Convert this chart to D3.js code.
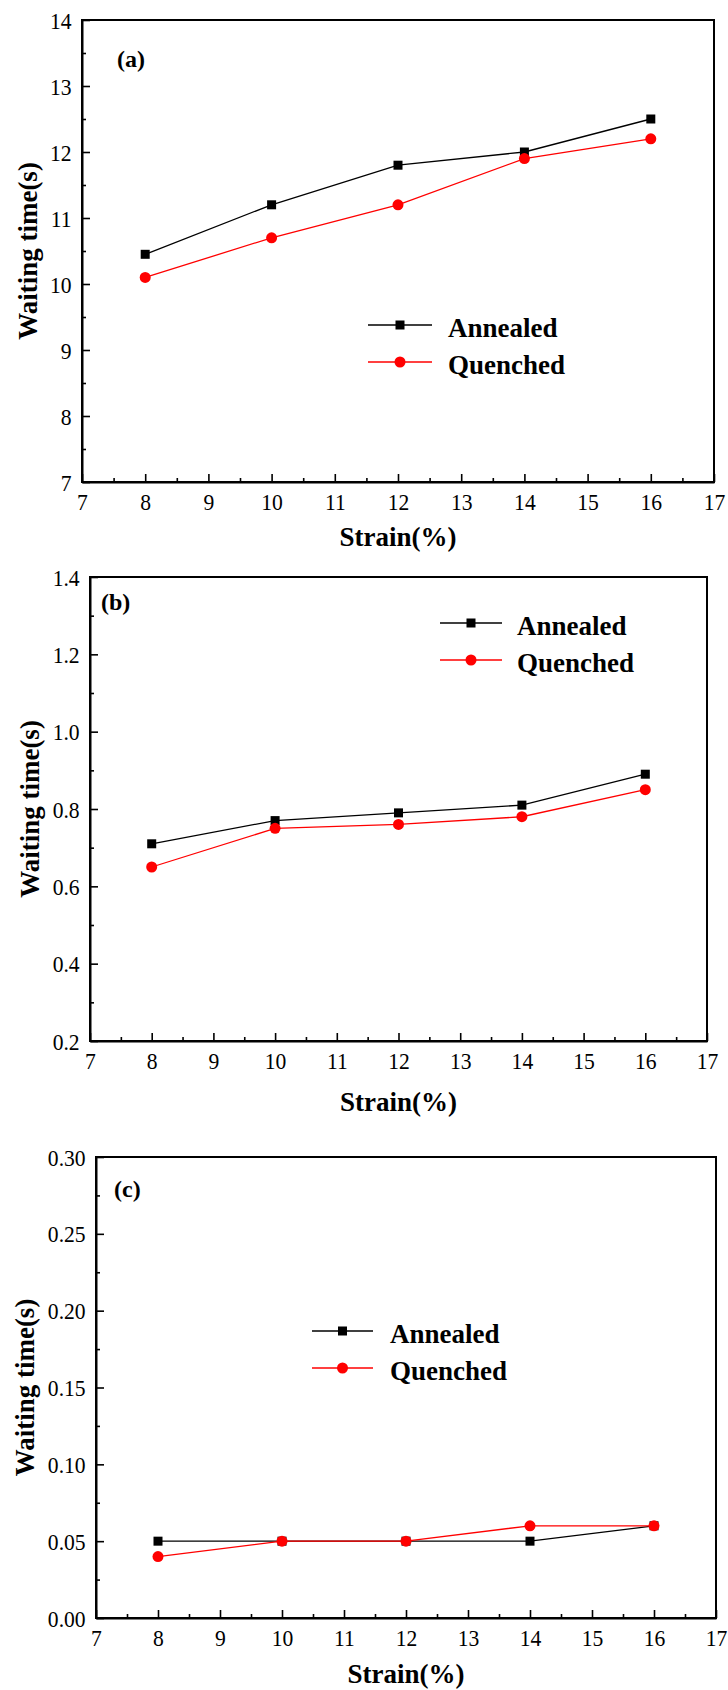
<!DOCTYPE html>
<html>
<head>
<meta charset="utf-8">
<script src="https://cdn.jsdelivr.net/npm/d3@7"></script>
<style>
  body { margin: 0; background: #fff; }
</style>
</head>
<body>
<div id="chart"></div>
<script>
// data
var strain = [8, 10, 12, 14, 16];
var seriesNames = ["Annealed", "Quenched"];

var annealedA = [10.45, 11.2, 11.8, 12.0, 12.5];
var quenchedA = [10.1, 10.7, 11.2, 11.9, 12.2];
var annealedB = [0.71, 0.77, 0.79, 0.81, 0.89];
var quenchedB = [0.65, 0.75, 0.76, 0.78, 0.85];
var annealedC = [0.05, 0.05, 0.05, 0.05, 0.06];
var quenchedC = [0.04, 0.05, 0.05, 0.06, 0.06];

var xTicks = [7, 8, 9, 10, 11, 12, 13, 14, 15, 16, 17];
var yTicksA = [7, 8, 9, 10, 11, 12, 13, 14];
var yTicksB = [0.2, 0.4, 0.6, 0.8, 1.0, 1.2, 1.4];
var yTicksC = [0.00, 0.05, 0.10, 0.15, 0.20, 0.25, 0.30];

var panelLabels = ["(a)", "(b)", "(c)"];

var colors = {Annealed: "#000000", Quenched: "#ff0000"};
var FONT = "'Liberation Serif', 'Times New Roman', Times, serif";

// layout of each panel (pixel boxes)
var panels = [
  {label: panelLabels[0], a: annealedA, q: quenchedA, yt: yTicksA, fmt: d3.format("d"),
   left: 82, right: 714, top: 20, bottom: 482,
   ylabX: 28, xlabY: 546, tagX: 117, tagY: 67,
   leg: {x0: 368, x1: 432, tx: 448, y: 325}},
  {label: panelLabels[1], a: annealedB, q: quenchedB, yt: yTicksB, fmt: d3.format(".1f"),
   left: 90, right: 707, top: 577, bottom: 1041,
   ylabX: 30, xlabY: 1111, tagX: 101, tagY: 610,
   leg: {x0: 440, x1: 502, tx: 517, y: 623}},
  {label: panelLabels[2], a: annealedC, q: quenchedC, yt: yTicksC, fmt: d3.format(".2f"),
   left: 96, right: 716, top: 1157, bottom: 1618,
   ylabX: 25, xlabY: 1683, tagX: 114, tagY: 1197,
   leg: {x0: 312, x1: 373, tx: 390, y: 1331}}
];

var svg = d3.select("#chart")
  .append("svg")
    .attr("width", 728)
    .attr("height", 1690)
    .attr("font-family", FONT);

panels.forEach(function(p) {
  var x = d3.scaleLinear()
    .domain([xTicks[0], xTicks[xTicks.length - 1]])
    .range([p.left, p.right]);
  var y = d3.scaleLinear()
    .domain([p.yt[0], p.yt[p.yt.length - 1]])
    .range([p.bottom, p.top]);

  var g = svg.append("g");

  // minor ticks halfway between majors
  var xMinor = xTicks.slice(0, -1).map(function(d, i) { return (d + xTicks[i + 1]) / 2; });
  var yMinor = p.yt.slice(0, -1).map(function(d, i) { return (d + p.yt[i + 1]) / 2; });

  g.append("g")
    .attr("transform", "translate(0," + p.bottom + ")")
    .call(d3.axisBottom(x).tickValues(xMinor).tickSize(-4).tickFormat(""))
    .call(function(s) { s.select(".domain").remove(); });
  g.append("g")
    .attr("transform", "translate(" + p.left + ",0)")
    .call(d3.axisLeft(y).tickValues(yMinor).tickSize(-4).tickFormat(""))
    .call(function(s) { s.select(".domain").remove(); });

  var xa = g.append("g")
    .attr("transform", "translate(0," + p.bottom + ")")
    .call(d3.axisBottom(x).tickValues(xTicks).tickSizeInner(-8).tickSizeOuter(0).tickFormat(d3.format("d")));
  // tick labels in the figure are a bit narrow, squeeze them horizontally
  xa.selectAll("text").attr("y", 28).attr("dy", 0).attr("transform", "scale(0.9,1)");

  var ya = g.append("g")
    .attr("transform", "translate(" + p.left + ",0)")
    .call(d3.axisLeft(y).tickValues(p.yt).tickSizeInner(-8).tickSizeOuter(0).tickFormat(p.fmt));
  ya.selectAll("text").attr("x", -11.5).attr("dy", "0.34em").attr("transform", "scale(0.9,1)");

  g.selectAll("g").attr("font-family", FONT).attr("font-size", 24);
  g.selectAll(".tick line").attr("stroke", "#000").attr("stroke-width", 1.6);
  g.selectAll(".tick text").attr("fill", "#000");

  // frame
  g.append("rect")
    .attr("x", p.left).attr("y", p.top)
    .attr("width", p.right - p.left).attr("height", p.bottom - p.top)
    .attr("fill", "none").attr("stroke", "#000").attr("stroke-width", 2);
  g.selectAll(".domain").attr("stroke-width", 2);

  // series
  var data = [
    {key: seriesNames[0], vals: p.a},
    {key: seriesNames[1], vals: p.q}
  ];
  var line = d3.line()
    .x(function(d, i) { return x(strain[i]); })
    .y(function(d) { return y(d); });

  data.forEach(function(s) {
    g.append("path")
      .attr("d", line(s.vals))
      .attr("fill", "none")
      .attr("stroke", colors[s.key])
      .attr("stroke-width", 1.3);
  });
  data.forEach(function(s) {
    var pts = g.selectAll(null).data(s.vals);
    if (s.key === "Annealed") {
      pts.enter().append("rect")
        .attr("x", function(d, i) { return x(strain[i]) - 4.5; })
        .attr("y", function(d) { return y(d) - 4.5; })
        .attr("width", 9).attr("height", 9)
        .attr("fill", colors[s.key]);
    } else {
      pts.enter().append("circle")
        .attr("cx", function(d, i) { return x(strain[i]); })
        .attr("cy", function(d) { return y(d); })
        .attr("r", 5.5)
        .attr("fill", colors[s.key]);
    }
  });

  // legend
  var leg = g.selectAll(".legend")
    .data(seriesNames)
    .enter().append("g")
      .attr("class", "legend")
      .attr("transform", function(d, i) { return "translate(0," + (p.leg.y + i * 37) + ")"; });
  leg.append("line")
    .attr("x1", p.leg.x0).attr("x2", p.leg.x1)
    .attr("stroke", function(d) { return colors[d]; })
    .attr("stroke-width", 1.3);
  leg.each(function(d) {
    var mx = (p.leg.x0 + p.leg.x1) / 2;
    if (d === "Annealed") {
      d3.select(this).append("rect")
        .attr("x", mx - 4.5).attr("y", -4.5).attr("width", 9).attr("height", 9)
        .attr("fill", colors[d]);
    } else {
      d3.select(this).append("circle")
        .attr("cx", mx).attr("r", 5.5).attr("fill", colors[d]);
    }
  });
  leg.append("text")
    .attr("x", p.leg.tx)
    .attr("y", 12)
    .attr("font-size", 27)
    .attr("font-weight", "bold")
    .text(function(d) { return d; });

  // panel tag
  g.append("text")
    .attr("x", p.tagX).attr("y", p.tagY)
    .attr("font-size", 24).attr("font-weight", "bold")
    .text(p.label);

  // axis titles
  g.append("text")
    .attr("x", (p.left + p.right) / 2).attr("y", p.xlabY)
    .attr("text-anchor", "middle")
    .attr("font-size", 27).attr("font-weight", "bold")
    .text("Strain(%)");
  g.append("text")
    .attr("transform", "translate(" + p.ylabX + "," + ((p.top + p.bottom) / 2) + ") rotate(-90)")
    .attr("text-anchor", "middle")
    .attr("dy", "0.35em")
    .attr("font-size", 27).attr("font-weight", "bold")
    .text("Waiting time(s)");
});
</script>
</body>
</html>
